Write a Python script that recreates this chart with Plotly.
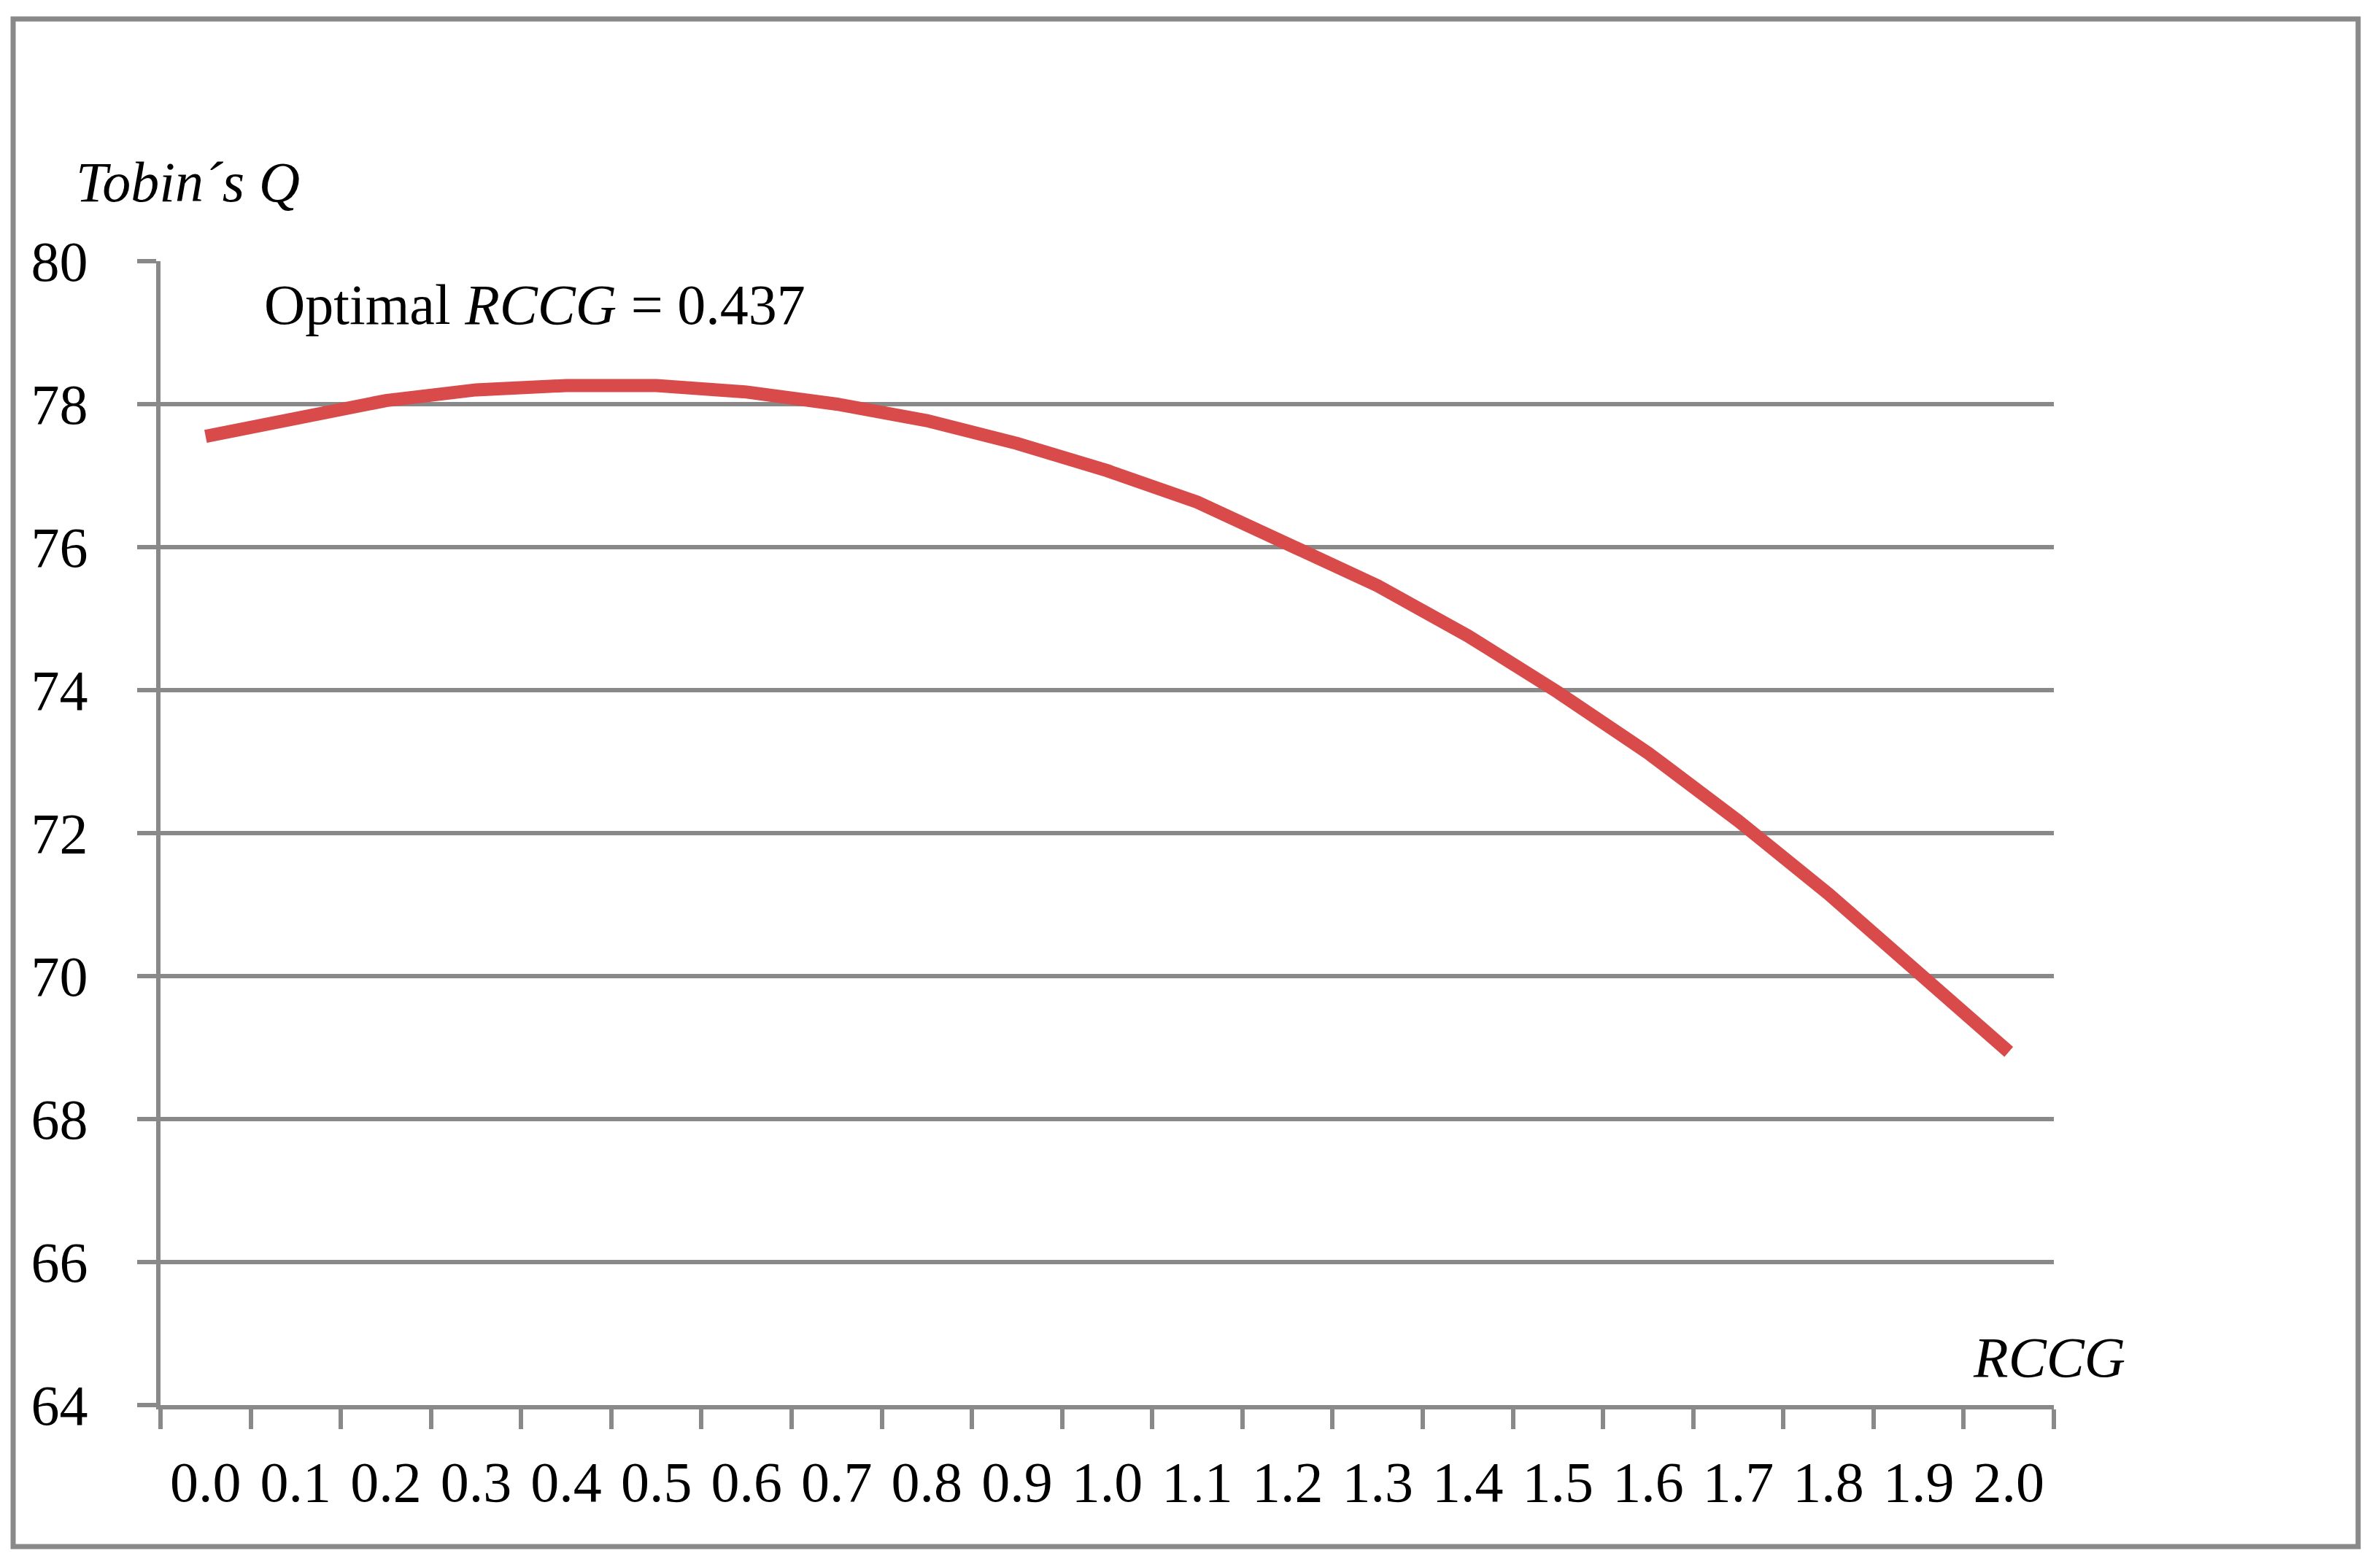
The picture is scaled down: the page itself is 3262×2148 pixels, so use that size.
import plotly.graph_objects as go

rccg = ["0.0", "0.1", "0.2", "0.3", "0.4", "0.5", "0.6", "0.7", "0.8", "0.9", "1.0",
        "1.1", "1.2", "1.3", "1.4", "1.5", "1.6", "1.7", "1.8", "1.9", "2.0"]
tobins_q = [77.55, 77.81, 78.05, 78.20, 78.26, 78.26, 78.17, 78.00, 77.77, 77.45, 77.07,
            76.63, 76.07, 75.46, 74.76, 73.97, 73.12, 72.17, 71.15, 70.07, 68.94]

# page has an 8px body margin, so the figure is 8px smaller and everything is placed in page pixels
OFF = 8
W, H = 3262 - OFF, 2148 - OFF
PLOT_X0, PLOT_X1 = 220, 2815
PLOT_Y0, PLOT_Y1 = 358, 1926
L = PLOT_X0 - OFF
R = W - (PLOT_X1 - OFF)
T = PLOT_Y0 - OFF
B = H - (PLOT_Y1 - OFF)
PW, PH = PLOT_X1 - PLOT_X0, PLOT_Y1 - PLOT_Y0

GRID = "#898989"
FONT = "Palatino Linotype, Book Antiqua, Palatino, Liberation Serif, serif"
FS = 78


def px_x(px):
    return (px - PLOT_X0) / PW


def px_y(py):
    return (PLOT_Y1 - py) / PH


fig = go.Figure()
fig.add_trace(
    go.Scatter(
        x=rccg,
        y=tobins_q,
        mode="lines",
        line=dict(color="#d94a4a", width=18),
        showlegend=False,
    )
)

fig.update_layout(
    width=W,
    height=H,
    margin=dict(l=L, r=R, t=T, b=B),
    paper_bgcolor="white",
    plot_bgcolor="white",
    font=dict(family=FONT, size=FS, color="black"),
    xaxis=dict(
        type="category",
        range=[-0.5, 20.5],
        showgrid=False,
        showline=True,
        linecolor=GRID,
        linewidth=6,
        ticks="outside",
        tickson="boundaries",
        ticklen=27,
        tickwidth=6,
        tickcolor=GRID,
        ticklabelstandoff=32,
        tickfont=dict(size=FS),
    ),
    yaxis=dict(
        range=[64, 80],
        dtick=2,
        showgrid=True,
        gridcolor=GRID,
        gridwidth=6,
        showline=True,
        linecolor=GRID,
        linewidth=6,
        ticks="outside",
        ticklen=26,
        tickwidth=6,
        tickcolor=GRID,
        ticklabelstandoff=52,
        tickfont=dict(size=FS),
        zeroline=False,
    ),
    shapes=[
        dict(
            type="rect",
            xref="paper",
            yref="paper",
            x0=px_x(18),
            x1=px_x(3232),
            y0=px_y(2120),
            y1=px_y(26),
            line=dict(color=GRID, width=7),
            fillcolor="rgba(0,0,0,0)",
            layer="below",
        )
    ],
    annotations=[
        dict(
            text="<i>Tobin´s Q</i>",
            xref="paper",
            yref="paper",
            x=px_x(102),
            y=px_y(250),
            xanchor="left",
            yanchor="middle",
            showarrow=False,
            font=dict(size=FS),
        ),
        dict(
            text="Optimal <i>RCCG</i> = 0.437",
            xref="paper",
            yref="paper",
            x=px_x(360),
            y=px_y(418),
            xanchor="left",
            yanchor="middle",
            showarrow=False,
            font=dict(size=FS),
        ),
        dict(
            text="<i>RCCG</i>",
            xref="paper",
            yref="paper",
            x=px_x(2915),
            y=px_y(1860),
            xanchor="right",
            yanchor="middle",
            showarrow=False,
            font=dict(size=FS),
        ),
    ],
)

fig.write_html("out.html")
